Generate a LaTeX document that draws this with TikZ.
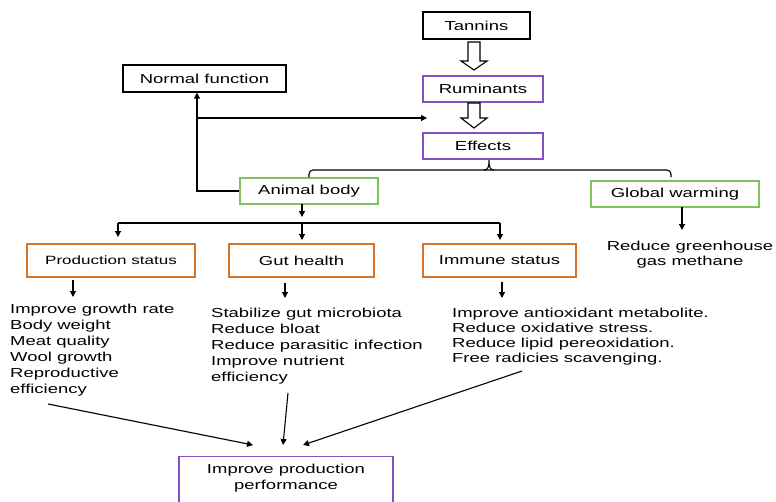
\documentclass[tikz,border=0pt]{standalone}
\usepackage{fontspec}
\setmainfont{Liberation Sans}[FakeStretch=1.42]
\usetikzlibrary{arrows.meta}
\definecolor{purp}{HTML}{8452C0}
\definecolor{grn}{HTML}{80C25E}
\definecolor{org}{HTML}{D8722C}
\begin{document}
\begin{tikzpicture}[x=1pt,y=-1pt,
  box/.style={draw, line width=1.1pt, inner sep=0pt, font=\fontsize{13}{16}\selectfont},
  pbox/.style={box, draw=purp},
  gbox/.style={box, draw=grn},
  obox/.style={box, draw=org, minimum height=33},
  listtxt/.style={inner sep=0pt, align=left, anchor=north west, font=\fontsize{13}{16}\selectfont},
  conn/.style={line width=1.1pt, -{Triangle[length=6pt,width=6pt]}},
  plain/.style={line width=1.1pt},
  hollow/.style={line width=1.1pt, fill=white}]
\useasboundingbox (0,0) rectangle (776,501);
% boxes
\node[box, minimum width=107, minimum height=27] (tan) at (476.5,25.5) {Tannins};
\node[pbox, minimum width=120, minimum height=26] (rum) at (483,89) {Ruminants};
\node[pbox, minimum width=120, minimum height=26] (eff) at (483,146) {Effects};
\node[box, minimum width=163, minimum height=27] (nf) at (204.5,78.5) {Normal function};
\node[gbox, minimum width=138, minimum height=26] (ab) at (309,191) {Animal body};
\node[gbox, minimum width=168, minimum height=26] (gw) at (675,194) {Global warming};
\node[obox, minimum width=168, font=\fontsize{12}{15}\selectfont] (ps) at (111,260.5) {Production status};
\node[obox, minimum width=145] (gh) at (301.5,260.5) {Gut health};
\node[obox, minimum width=153] (is) at (499.5,260.5) {Immune status};
\node[pbox, minimum width=214, minimum height=60, anchor=north] (ppbox) at (286,456) {};
\node[inner sep=0pt, align=center, font=\fontsize{13}{16}\selectfont] (pp) at (286,478) {Improve production\\performance};
% texts
\node[listtxt] (pl) at (10,303.5) {Improve growth rate\\Body weight\\Meat quality\\Wool growth\\Reproductive\\efficiency};
\node[listtxt] (gl) at (211,307.5) {Stabilize gut microbiota\\Reduce bloat\\Reduce parasitic infection\\Improve nutrient\\efficiency};
\node[listtxt, font=\fontsize{13}{15}\selectfont] (il) at (452,307.5) {Improve antioxidant metabolite.\\Reduce oxidative stress.\\Reduce lipid pereoxidation.\\Free radicies scavenging.};
\node[inner sep=0pt, align=center, font=\fontsize{13}{15.5}\selectfont] (gg) at (690,254.5) {Reduce greenhouse\\gas methane};
% hollow arrows
\draw[hollow] (468,42) -- (480,42) -- (480,61) -- (487,61) -- (474,70) -- (461,61) -- (468,61) -- cycle;
\draw[hollow] (468,103) -- (480,103) -- (480,118) -- (487,118) -- (474,128) -- (461,118) -- (468,118) -- cycle;
% brace
\coordinate (bl) at (ab.north);
\coordinate (bp) at (489,160);
\coordinate (br) at (671,177);
\draw[plain, rounded corners=4pt] (bl) |- (489,170);
\draw[plain, rounded corners=4pt] (489,170) -| (br);
\draw[plain] (484,170) .. controls (488,170) and (489,167) .. (bp)
  .. controls (489,167) and (490,170) .. (494,170);
% normal function connectors
\coordinate (c1) at (197,191);
\coordinate (c2) at (197,118);
\coordinate (c3) at (427,118);
\draw[conn] (ab.west) -- (c1) -- (nf.south -| c1);
\draw[conn] (c2) -- (c3);
% animal body branches
\coordinate (a0) at (302,204);
\coordinate (a1) at (302,217);
\coordinate (hl) at (118,223);
\coordinate (hr) at (500,223);
\draw[conn] (a0) -- (a1);
\draw[plain] (hl) -- (hr);
\draw[conn] (hl) -- (118,237);
\draw[conn] (302,223) -- (302,240);
\draw[conn] (hr) -- (500,240);
% global warming
\draw[conn] (682,207) -- (682,230);
% box-to-list arrows
\draw[conn] (73,280) -- (73,297);
\draw[conn] (285,283) -- (285,298);
\draw[conn] (502,282) -- (502,298);
% to bottom box
\draw[conn] (48,404) -- (253,445);
\draw[conn] (288,393) -- (283,445);
\draw[conn] (522,371) -- (303,445);
\end{tikzpicture}
\end{document}
